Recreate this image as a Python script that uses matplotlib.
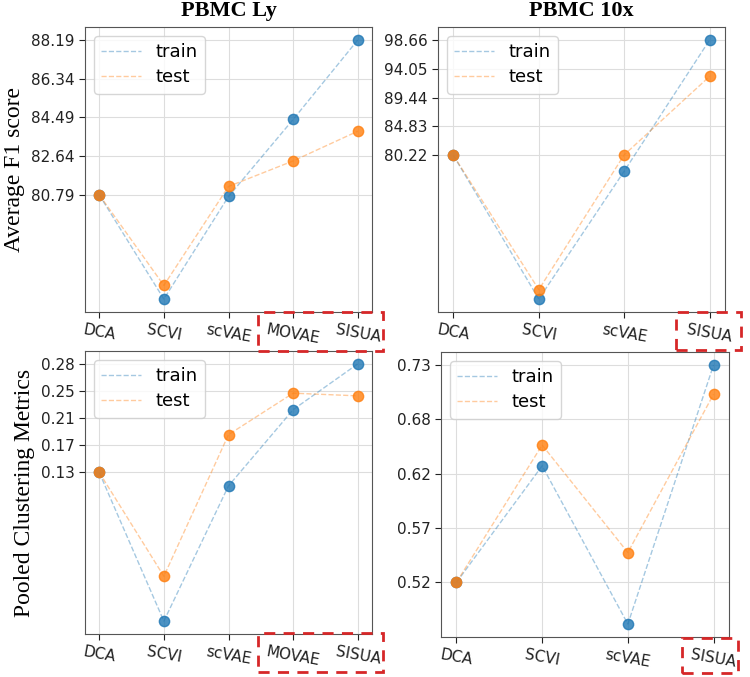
""" F1 and clustering metrics, train vs test """
import numpy as np
import matplotlib
matplotlib.use("Agg")
import matplotlib.pyplot as plt
from matplotlib.patches import Rectangle

models_ly = ["DCA", "SCVI", "scVAE", "MOVAE", "SISUA"]
models_10x = ["DCA", "SCVI", "scVAE", "SISUA"]

f1_ly_train = [80.79, 75.81, 80.71, 84.39, 88.19]
f1_ly_test = [80.79, 76.46, 81.19, 82.41, 83.83]
f1_10x_train = [80.22, 57.25, 77.69, 98.66]
f1_10x_test = [80.22, 58.76, 80.30, 92.84]

clu_ly_train = [0.134, -0.0715, 0.1154, 0.2207, 0.284]
clu_ly_test = [0.134, -0.0095, 0.1862, 0.2435, 0.2398]
clu_10x_train = [0.519, 0.6321, 0.4786, 0.730]
clu_10x_test = [0.519, 0.6523, 0.548, 0.7016]

W, H = 750, 677
fig = plt.figure(figsize=(W / 100, H / 100), dpi=100)

serif = ["Liberation Serif", "DejaVu Serif"]


def draw(rect, models, train, test, pad, title=None, ylabel=None):
  ax = fig.add_axes(rect)
  x = np.arange(len(models))
  ax.plot(x, train, "--", color="C0", alpha=0.4, lw=1, label="train")
  ax.plot(x, test, "--", color="C1", alpha=0.4, lw=1, label="test")
  ax.scatter(x, train, s=55, color="C0", alpha=0.8, zorder=3)
  ax.scatter(x, test, s=55, color="C1", alpha=0.8, zorder=3)
  ax.set_xticks(x)
  ax.set_xticklabels(models, rotation=-10, fontsize=11)
  ax.set_xlim(-pad, len(models) - 1 + pad)
  ticks = np.linspace(train[0], max(max(train), max(test)), 5)
  ax.set_yticks(ticks)
  ax.set_yticklabels(["%.2f" % t for t in ticks], fontsize=11)
  ax.grid(True, color="#dddddd", lw=0.8)
  ax.set_axisbelow(True)
  for s in ax.spines.values():
    s.set_color("#555555")
  ax.tick_params(colors="#222222", length=4)
  ax.legend(loc="upper left", fontsize=13, handlelength=2.2, labelspacing=0.4,
            borderpad=0.4)
  if title:
    ax.set_title(title, fontsize=16, fontweight="bold", family=serif, pad=8)
  if ylabel:
    ax.set_ylabel(ylabel, fontsize=17, family=serif)
  return ax


draw([85 / W, 1 - 312 / H, 287 / W, 285 / H], models_ly, f1_ly_train, f1_ly_test,
     0.22, title="PBMC Ly", ylabel="Average F1 score")
draw([438 / W, 1 - 312 / H, 287 / W, 285 / H], models_10x, f1_10x_train, f1_10x_test,
     0.18, title="PBMC 10x")
draw([85 / W, 1 - 634 / H, 287 / W, 283 / H], models_ly, clu_ly_train, clu_ly_test,
     0.22, ylabel="Pooled Clustering Metrics")
draw([441 / W, 1 - 637 / H, 288 / W, 285 / H], models_10x, clu_10x_train, clu_10x_test,
     0.18)

# red dashed boxes around the highlighted models
boxes = [(258, 312, 383, 351), (676, 312, 741, 350),
         (258, 633, 383, 672), (682, 638, 738, 673)]
for x0, y0, x1, y1 in boxes:
  fig.patches.append(Rectangle((x0 / W, 1 - y1 / H), (x1 - x0) / W, (y1 - y0) / H,
                               transform=fig.transFigure, fill=False,
                               edgecolor="#d62728", lw=2, ls=(0, (4, 3)),
                               clip_on=False))

fig.savefig("out.png", dpi=100)
